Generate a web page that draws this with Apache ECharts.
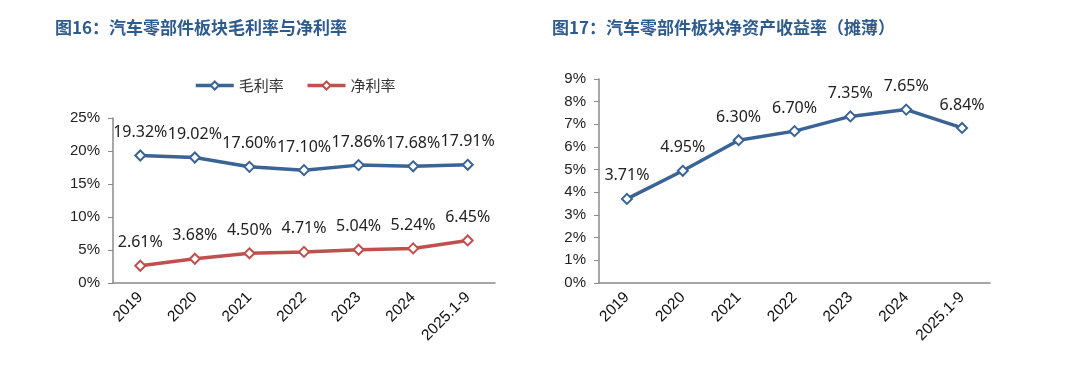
<!DOCTYPE html>
<html><head><meta charset="utf-8">
<script src="https://cdn.jsdelivr.net/npm/echarts@6/dist/echarts.min.js"></script>
<style>html,body{margin:0;padding:0;background:#fff}#c{width:1080px;height:374px}</style>
</head><body><div id="c"></div>
<script>
const categories = ['2019','2020','2021','2022','2023','2024','2025.1-9'];
const grossMargin = [19.32, 19.02, 17.60, 17.10, 17.86, 17.68, 17.91];
const netMargin = [2.61, 3.68, 4.50, 4.71, 5.04, 5.24, 6.45];
const roe = [3.71, 4.95, 6.30, 6.70, 7.35, 7.65, 6.84];
const title1 = '图16：汽车零部件板块毛利率与净利率';
const title2 = '图17：汽车零部件板块净资产收益率（摊薄）';

const BLUE = '#3A6396', RED = '#C0504D', AX = '#8a8a8a';
const labelFont = {fontFamily:'Noto Sans', fontSize:16, color:'#222'};
function xAxis(gi){return {type:'category', gridIndex:gi, data:categories, boundaryGap:true,
  axisLine:{lineStyle:{color:AX,width:1.5}}, axisTick:{inside:true,length:4,lineStyle:{color:AX}},
  axisLabel:{rotate:45, fontFamily:'Liberation Sans', fontSize:15.5, color:'#111', margin:12}};}
function yAxis(gi,max){return {type:'value', gridIndex:gi, min:0, max:max, interval:max===25?5:1,
  axisLine:{show:true,lineStyle:{color:AX,width:1.5}}, axisTick:{show:true,length:5,lineStyle:{color:AX}},
  splitLine:{show:false},
  axisLabel:{formatter:'{value}%', fontFamily:'Liberation Sans', fontSize:15, color:'#222', margin:13}};}
function line(name,data,color,gi){return {name:name,type:'line',xAxisIndex:gi,yAxisIndex:gi,data:data,
  symbol:'diamond',symbolSize:10,showSymbol:true,
  itemStyle:{color:'#fff',borderColor:color,borderWidth:2},
  lineStyle:{color:color,width:3.5},
  label:{show:true,position:'top',distance:9,formatter:p=>p.value.toFixed(2)+'%',...labelFont},
  emphasis:{disabled:true}, animation:false};}

const chart = echarts.init(document.getElementById('c'));
chart.setOption({
  animation:false,
  title:[
    {text:title1,left:50,top:14,textStyle:{fontFamily:'Noto Sans CJK SC',fontSize:17,fontWeight:'bold',color:'#2E5B8E'}},
    {text:title2,left:547,top:14,textStyle:{fontFamily:'Noto Sans CJK SC',fontSize:17,fontWeight:'bold',color:'#2E5B8E'}}
  ],
  legend:{left:189,top:73,itemWidth:38,itemHeight:10,itemGap:22,
    data:[{name:'毛利率',itemStyle:{color:'#fff',borderColor:BLUE,borderWidth:2},lineStyle:{color:BLUE,width:3.5}},
          {name:'净利率',itemStyle:{color:'#fff',borderColor:RED,borderWidth:2},lineStyle:{color:RED,width:3.5}}],
    textStyle:{fontFamily:'Noto Sans CJK SC',fontSize:15,color:'#333'}},
  grid:[{left:113,top:118,width:382,height:165},{left:599,top:79,width:391,height:204}],
  xAxis:[xAxis(0),xAxis(1)],
  yAxis:[yAxis(0,25),yAxis(1,9)],
  series:[line('毛利率',grossMargin,BLUE,0),line('净利率',netMargin,RED,0),line('ROE',roe,BLUE,1)]
});
</script></body></html>
